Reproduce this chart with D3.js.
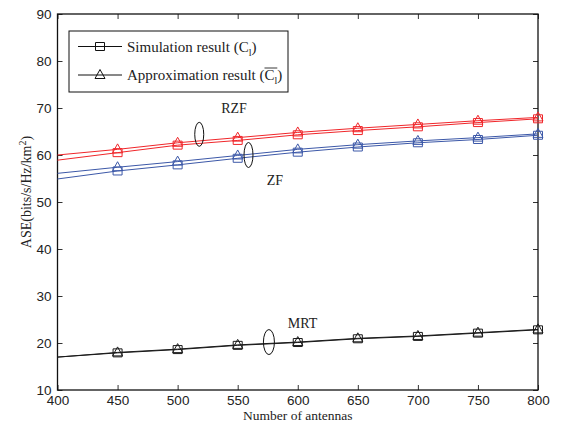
<!DOCTYPE html>
<html>
<head>
<meta charset="utf-8">
<script src="https://cdn.jsdelivr.net/npm/d3@7"></script>
<style>
  body { margin: 0; background: #fff; }
  svg { display: block; }
</style>
</head>
<body>
<div class="chart"></div>
<script>
// ===============================
// Data
// ===============================

const antennas = [400, 450, 500, 550, 600, 650, 700, 750, 800];

const rzfSim    = [58.9, 60.5, 62.1, 63.1, 64.3, 65.2, 66.0, 66.9, 67.7];
const rzfApprox = [60.0, 61.2, 62.6, 63.7, 64.8, 65.7, 66.5, 67.3, 68.0];
const zfSim     = [54.9, 56.6, 57.9, 59.3, 60.6, 61.7, 62.6, 63.3, 64.2];
const zfApprox  = [56.1, 57.4, 58.6, 59.9, 61.2, 62.2, 63.0, 63.7, 64.5];
const mrtSim    = [17.0, 17.9, 18.6, 19.5, 20.1, 20.9, 21.4, 22.1, 22.8];
const mrtApprox = [17.0, 18.0, 18.7, 19.6, 20.2, 21.0, 21.5, 22.2, 22.9];

const xTicks = [400, 450, 500, 550, 600, 650, 700, 750, 800];
const yTicks = [10, 20, 30, 40, 50, 60, 70, 80, 90];

// ===============================
// Setup
// ===============================

const width = 562;
const height = 427;
const margin = { top: 14, right: 24, bottom: 37, left: 57.5 };

const svg = d3.select(".chart")
    .append("svg")
    .attr("width", width)
    .attr("height", height);

const x = d3.scaleLinear()
    .domain([400, 800])
    .range([margin.left, width - margin.right]);

const y = d3.scaleLinear()
    .domain([10, 90])
    .range([height - margin.bottom, margin.top]);

const red = "#f0262a";
const blue = "#3c58a8";
const black = "#1a1a1a";

const series = [
    { values: rzfSim,    color: red,   marker: "square" },
    { values: rzfApprox, color: red,   marker: "triangle" },
    { values: zfSim,     color: blue,  marker: "square" },
    { values: zfApprox,  color: blue,  marker: "triangle" },
    { values: mrtSim,    color: black, marker: "square" },
    { values: mrtApprox, color: black, marker: "triangle" }
];

// ===============================
// Axes (MATLAB style, ticks inside)
// ===============================

const x0 = x.range()[0], x1 = x.range()[1];
const y0 = y.range()[0], y1 = y.range()[1];
const tickLen = 5;

svg.append("g")
    .attr("transform", `translate(0,${y0})`)
    .call(d3.axisBottom(x).tickValues(xTicks).tickSize(-tickLen).tickPadding(5))
    .call(g => g.select(".domain").remove())
    .call(g => g.selectAll("text")
        .style("font-family", "Liberation Sans, Arial, sans-serif")
        .style("font-size", "13.5px")
        .attr("fill", "#222"));

svg.append("g")
    .attr("transform", `translate(${x0},0)`)
    .call(d3.axisLeft(y).tickValues(yTicks).tickSize(-tickLen).tickPadding(6))
    .call(g => g.select(".domain").remove())
    .call(g => g.selectAll("text")
        .style("font-family", "Liberation Sans, Arial, sans-serif")
        .style("font-size", "13.5px")
        .attr("fill", "#222"));

// top and right ticks
svg.append("g")
    .attr("transform", `translate(0,${y1})`)
    .call(d3.axisTop(x).tickValues(xTicks).tickSize(-tickLen).tickFormat(""))
    .call(g => g.select(".domain").remove());

svg.append("g")
    .attr("transform", `translate(${x1},0)`)
    .call(d3.axisRight(y).tickValues(yTicks).tickSize(-tickLen).tickFormat(""))
    .call(g => g.select(".domain").remove());

svg.selectAll(".tick line").attr("stroke", "#333");

// box
svg.append("rect")
    .attr("x", x0)
    .attr("y", y1)
    .attr("width", x1 - x0)
    .attr("height", y0 - y1)
    .attr("fill", "none")
    .attr("stroke", "#111")
    .attr("stroke-width", 1.3);

// ===============================
// Lines and markers
// ===============================

const line = d3.line()
    .x((d, i) => x(antennas[i]))
    .y(d => y(d));

const markerPath = (type, cx, cy) => {
    if (type === "square") {
        return `M${cx - 4.5},${cy - 4}h9v8h-9Z`;
    }
    return `M${cx},${cy - 5.5}L${cx + 5},${cy + 3.5}L${cx - 5},${cy + 3.5}Z`;
};

series.forEach(s => {
    svg.append("path")
        .datum(s.values)
        .attr("d", line)
        .attr("fill", "none")
        .attr("stroke", s.color)
        .attr("stroke-width", 1);

    svg.append("g")
        .selectAll("path")
        .data(s.values.map((v, i) => ({ n: antennas[i], v })).filter(d => d.n > 400))
        .join("path")
        .attr("d", d => markerPath(s.marker, x(d.n), y(d.v)))
        .attr("fill", "none")
        .attr("stroke", s.color)
        .attr("stroke-width", 1);
});

// ===============================
// Annotations (ellipses and labels)
// ===============================

const serif = "Liberation Serif, Times New Roman, serif";

const ellipses = [
    { n: 518, v: 64.4, rx: 4.5, ry: 12 },
    { n: 559, v: 60.0, rx: 4.5, ry: 12.5 },
    { n: 576, v: 20.2, rx: 5.5, ry: 12.5 }
];

svg.selectAll(".ell")
    .data(ellipses)
    .join("ellipse")
    .attr("cx", d => x(d.n))
    .attr("cy", d => y(d.v))
    .attr("rx", d => d.rx)
    .attr("ry", d => d.ry)
    .attr("fill", "none")
    .attr("stroke", "#111")
    .attr("stroke-width", 1);

const labels = [
    { text: "RZF", n: 547, v: 68.9 },
    { text: "ZF",  n: 581, v: 53.6 },
    { text: "MRT", n: 604, v: 23.2 }
];

svg.selectAll(".lab")
    .data(labels)
    .join("text")
    .attr("x", d => x(d.n))
    .attr("y", d => y(d.v))
    .attr("text-anchor", "middle")
    .style("font-family", serif)
    .style("font-size", "14px")
    .attr("fill", "#222")
    .text(d => d.text);

// ===============================
// Axis titles
// ===============================

svg.append("text")
    .attr("x", (x0 + x1) / 2)
    .attr("y", 420)
    .attr("text-anchor", "middle")
    .style("font-family", serif)
    .style("font-size", "13.5px")
    .attr("fill", "#222")
    .text("Number of antennas");

const yTitle = svg.append("text")
    .attr("transform", "translate(31,192) rotate(-90)")
    .attr("text-anchor", "middle")
    .style("font-family", serif)
    .style("font-size", "14px")
    .attr("fill", "#222");
yTitle.append("tspan").text("ASE(bits/s/Hz/km");
yTitle.append("tspan").attr("dy", -5).style("font-size", "10px").text("2");
yTitle.append("tspan").attr("dy", 5).text(")");

// ===============================
// Legend
// ===============================

const legend = svg.append("g");

legend.append("rect")
    .attr("x", 69)
    .attr("y", 31)
    .attr("width", 219)
    .attr("height", 61)
    .attr("fill", "#fff")
    .attr("stroke", "#111")
    .attr("stroke-width", 1);

const legendItems = [
    { marker: "square",   y: 46.5, label: "Simulation result (", over: false },
    { marker: "triangle", y: 75,   label: "Approximation result (", over: true }
];

legendItems.forEach(item => {
    legend.append("line")
        .attr("x1", 78).attr("x2", 122)
        .attr("y1", item.y).attr("y2", item.y)
        .attr("stroke", "#111");

    legend.append("path")
        .attr("d", markerPath(item.marker, 100, item.y))
        .attr("fill", "none")
        .attr("stroke", "#111");

    const t = legend.append("text")
        .attr("x", 127)
        .attr("y", item.y + 5)
        .style("font-family", serif)
        .style("font-size", "15px")
        .attr("fill", "#222");
    t.append("tspan").text(item.label);
    const c = t.append("tspan").text("C");
    t.append("tspan").attr("dy", 4).style("font-size", "10px").text("l");
    const close = t.append("tspan").attr("dy", -4).text(")");

    if (item.over) {
        const cb = c.node().getBBox();
        const eb = close.node().getBBox();
        legend.append("line")
            .attr("x1", cb.x)
            .attr("x2", eb.x)
            .attr("y1", cb.y + 1)
            .attr("y2", cb.y + 1)
            .attr("stroke", "#222")
            .attr("stroke-width", 0.9);
    }
});
</script>
</body>
</html>
